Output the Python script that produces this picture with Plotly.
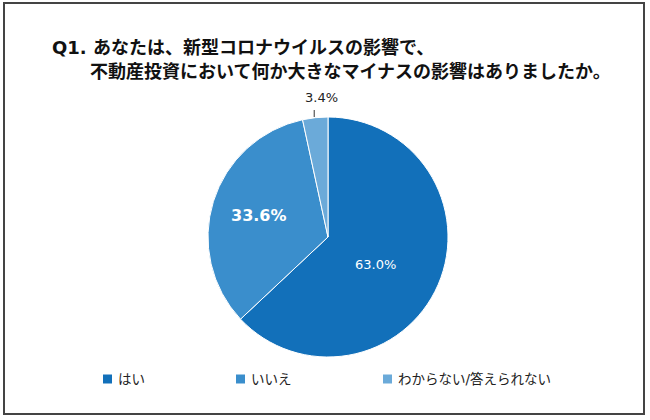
import math
import plotly.graph_objects as go

categories = ["はい", "いいえ", "わからない/答えられない"]
values = [63.0, 33.6, 3.4]
colors = ["#1270BA", "#3A8ECC", "#6BAAD9"]
legend_x = [103, 236, 383]

W, H = 650, 420
cx, cy, R = 328, 237, 120

fig = go.Figure(go.Pie(
    labels=categories, values=values, sort=False, direction="clockwise", rotation=0,
    marker=dict(colors=colors, line=dict(color="white", width=1)),
    textinfo="none", hoverinfo="label+percent", showlegend=False,
    domain=dict(x=[(cx - R) / W, (cx + R) / W], y=[1 - (cy + R) / H, 1 - (cy - R) / H]),
))

FONT = "DejaVu Sans, Noto Sans CJK JP, sans-serif"
total = sum(values)
cum = 0
label_specs = [
    dict(f=0.47, size=13, bold=False, color="white", dx=-4, dy=5),
    dict(f=0.6, size=16, bold=True, color="white", dx=0, dy=0),
    dict(f=1.17, size=13, bold=False, color="#222222", dx=8, dy=0),
]
for v, spec in zip(values, label_specs):
    mid = (cum + v / 2) / total * 2 * math.pi
    cum += v
    px = cx + R * spec["f"] * math.sin(mid) + spec["dx"]
    py = cy - R * spec["f"] * math.cos(mid) + spec["dy"]
    txt = f"{v:.1f}%"
    if spec["bold"]:
        txt = f"<b>{txt}</b>"
    if spec["f"] > 1:
        ex = cx + R * math.sin(mid) - 1
        fig.add_shape(type="line", xref="paper", yref="paper",
                      x0=ex / W, x1=ex / W, y0=1 - (cy - R) / H, y1=1 - (cy - R - 7) / H,
                      line=dict(color="#333333", width=1))
    fig.add_annotation(x=px / W, y=1 - py / H, xref="paper", yref="paper", text=txt,
                       xanchor="center", yanchor="middle",
                       showarrow=False, font=dict(size=spec["size"], color=spec["color"], family=FONT))

# legend (custom, built from categories/colors)
ly = 379
for cat, col, lx in zip(categories, colors, legend_x):
    fig.add_shape(type="rect", xref="paper", yref="paper",
                  x0=lx / W, x1=(lx + 9) / W, y0=1 - (ly + 4.5) / H, y1=1 - (ly - 4.5) / H,
                  fillcolor=col, line=dict(width=0))
    fig.add_annotation(x=(lx + 13) / W, y=1 - ly / H, xref="paper", yref="paper", text=cat,
                       xanchor="left", yanchor="middle", showarrow=False,
                       font=dict(size=13.5, color="#222222", family=FONT))

fig.add_annotation(
    x=50 / W, y=1 - 47 / H, xref="paper", yref="paper", xanchor="left", yanchor="middle",
    align="left", showarrow=False,
    text="<b>Q1. あなたは、新型コロナウイルスの影響で、</b>",
    font=dict(size=18, color="#111111", family=FONT))
fig.add_annotation(
    x=88 / W, y=1 - 71 / H, xref="paper", yref="paper", xanchor="left", yanchor="middle",
    align="left", showarrow=False,
    text="<b>不動産投資において何か大きなマイナスの影響はありましたか。</b>",
    font=dict(size=18, color="#111111", family=FONT))

fig.add_shape(type="rect", xref="paper", yref="paper",
              x0=4 / W, x1=644 / W, y0=1 - 414 / H, y1=1 - 3 / H,
              line=dict(color="#444444", width=2))

fig.update_layout(
    width=W, height=H, margin=dict(l=0, r=0, t=0, b=0),
    paper_bgcolor="white", plot_bgcolor="white",
    font=dict(family=FONT, color="#222222", size=13),
    showlegend=False,
)

fig.write_html("out.html", config={"displayModeBar": False},
               post_script="document.body.style.margin='0';")
